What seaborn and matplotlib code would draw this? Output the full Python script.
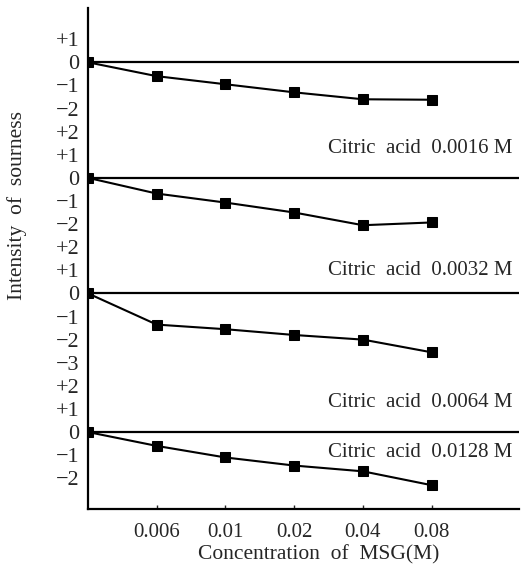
import matplotlib
matplotlib.use("Agg")
import matplotlib.pyplot as plt
import seaborn as sns
import numpy as np
import pandas as pd

# MSG concentrations (first point is the origin, no MSG)
msg_labels = ["0", "0.006", "0.01", "0.02", "0.04", "0.08"]

# intensity of sourness for each citric acid level
sour_0016 = [0, -0.6, -0.95, -1.3, -1.6, -1.62]
sour_0032 = [0, -0.68, -1.07, -1.5, -2.05, -1.93]
sour_0064 = [0, -1.35, -1.55, -1.8, -2.0, -2.55]
sour_0128 = [0, -0.6, -1.1, -1.45, -1.7, -2.3]

panel_names = ["Citric  acid  0.0016 M", "Citric  acid  0.0032 M",
               "Citric  acid  0.0064 M", "Citric  acid  0.0128 M"]
panel_values = [sour_0016, sour_0032, sour_0064, sour_0128]
panel_ticks = [["+1", "0", "\u22121", "\u22122"],
               ["+2", "+1", "0", "\u22121", "\u22122"],
               ["+2", "+1", "0", "\u22121", "\u22122", "\u22123"],
               ["+2", "+1", "0", "\u22121", "\u22122"]]

# vertical stacking of the four panels (layout)
offsets = [0, -5, -10, -16]
label_y = [-3.75, -9.0, -14.7, -16.9]

sns.set_style("ticks")
plt.rcParams["font.family"] = ["Liberation Serif", "DejaVu Serif"]

fig = plt.figure(figsize=(5.31, 5.71), dpi=100)
ax = fig.add_axes([88 / 531, 1 - 509 / 571, (519 - 88) / 531, (509 - 8) / 571])

xpos = np.arange(len(msg_labels))
yticks, yticklabels = [], []
for name, vals, ticks, off, ly in zip(panel_names, panel_values, panel_ticks, offsets, label_y):
    df = pd.DataFrame({"x": xpos, "y": np.array(vals) + off})
    ax.axhline(off, color="black", lw=1.6, zorder=1)
    sns.lineplot(data=df, x="x", y="y", ax=ax, color="black", lw=1.5,
                 marker="s", markersize=6.5, markeredgecolor="black", zorder=3)
    for t in ticks:
        v = 0 if t == "0" else int(t.replace("\u2212", "-").replace("+", ""))
        yticks.append(off + v)
        yticklabels.append(t)
    ax.text(6.17, ly, name, ha="right", va="center", fontsize=15)

ax.set_xlim(0, 6.27)
ax.set_ylim(-19.33, 2.35)
ax.set_xticks(xpos[1:])
ax.set_xticklabels(msg_labels[1:], fontsize=15)
ax.set_yticks(yticks)
ax.set_yticklabels(yticklabels, fontsize=16)
ax.tick_params(axis="y", length=0, pad=6)
ax.tick_params(axis="x", direction="in", length=3, width=1, pad=10)
ax.set_xlabel("")
ax.set_ylabel("")
for s in ["top", "right"]:
    ax.spines[s].set_visible(False)
for s in ["left", "bottom"]:
    ax.spines[s].set_linewidth(1.6)
    ax.spines[s].set_color("black")

fig.text(319 / 531, 1 - 555 / 571, "Concentration  of  MSG(M)", ha="center", va="center", fontsize=15.5)
fig.text(17 / 531, 1 - 206 / 571, "Intensity  of  sourness", ha="center", va="center",
         rotation=90, fontsize=15.5)

fig.savefig("out.png", dpi=100)
